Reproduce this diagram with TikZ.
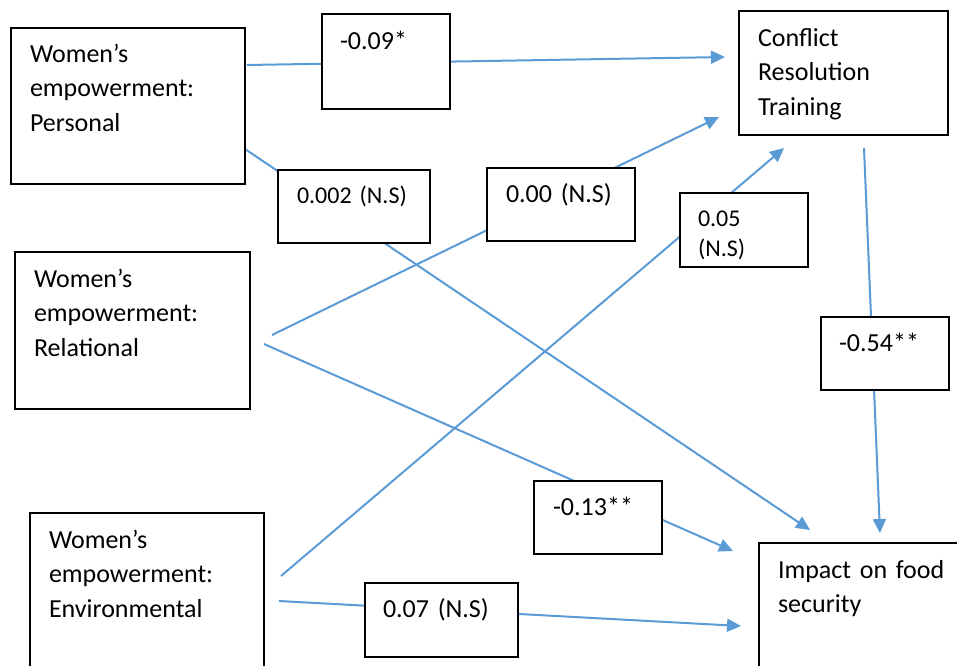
\documentclass[tikz,border=0pt]{standalone}
\usepackage{fontspec}
\setmainfont{Carlito}
\usetikzlibrary{arrows.meta,backgrounds}
\definecolor{linkblue}{RGB}{91,155,213}

\tikzstyle{box}=[draw,fill=white,line width=1.2pt,anchor=north west,align=left,inner xsep=19pt,inner ysep=0pt,outer sep=0pt,font=\fontsize{26}{34.5}\selectfont]
\tikzstyle{coef}=[box,text height=34pt,text depth=39pt]
\tikzstyle{small}=[font=\fontsize{24}{30}\selectfont]
\tikzstyle{link}=[draw=linkblue,line width=2pt,-{Triangle[length=14pt,width=13pt]}]

\begin{document}
\begin{tikzpicture}[x=1pt,y=-1pt]
            \useasboundingbox (0,0) rectangle (957,665);
            \clip (0,0) rectangle (957,665);
            % variables
            \node (pers) at (11,28) [box,text width=196pt,text height=34pt,text depth=122pt] {Women’s\\empowerment:\\Personal};
            \node (rel) at (15,252) [box,text width=197pt,text height=35pt,text depth=122pt] {Women’s\\empowerment:\\Relational};
            \node (env) at (30,513) [box,text width=196pt,text height=35pt,text depth=160pt] {Women’s\\empowerment:\\Environmental};
            \node (crt) at (739,11) [box,text width=171pt,text height=35pt,text depth=89pt] {Conflict\\Resolution\\Training};
            \node (food) at (759,543) [box,text width=182pt,text height=35pt,text depth=130pt] {Impact on food\\security};
            % coefficients
            \node (l09) at (322,14) [coef,inner xsep=18pt,text width=92pt,text height=35pt,text depth=60pt] {-0.09*};
            \node (l002) at (278,170) [coef,small,text width=114pt,text height=33pt,text depth=40pt] {0.002 (N.S)};
            \node (l00) at (487,168) [coef,text width=110pt] {0.00 (N.S)};
            \node (l005) at (680,193) [coef,small,inner xsep=18pt,text width=92pt,text height=33pt,text depth=41pt] {0.05\\(N.S)};
            \node (l054) at (821,317) [coef,inner xsep=18pt,text width=92pt] {-0.54**};
            \node (l013) at (534,481) [coef,text width=90pt,text depth=39pt] {-0.13**};
            \node (l007) at (365,583) [coef,inner xsep=18pt,text width=117pt,text height=34pt,text depth=40pt] {0.07 (N.S)};
            % paths
            \coordinate (s1) at (247,65);  \coordinate (e1) at (725,57);
            \coordinate (s2) at (245,149); \coordinate (e2) at (810,530);
            \coordinate (s3) at (272,335); \coordinate (e3) at (719,117);
            \coordinate (s4) at (264,344); \coordinate (e4) at (733,551);
            \coordinate (s5) at (281,576); \coordinate (e5) at (784,148);
            \coordinate (s6) at (279,601); \coordinate (e6) at (741,626);
            \coordinate (s7) at (864,148); \coordinate (e7) at (880,533);
            \begin{scope}[on background layer]
            \draw[link] (s1) -- (e1);
            \draw[link] (s2) -- (e2);
            \draw[link] (s3) -- (e3);
            \draw[link] (s4) -- (e4);
            \draw[link] (s5) -- (e5);
            \draw[link] (s6) -- (e6);
            \draw[link] (s7) -- (e7);
            \end{scope}
        \end{tikzpicture}
\end{document}
